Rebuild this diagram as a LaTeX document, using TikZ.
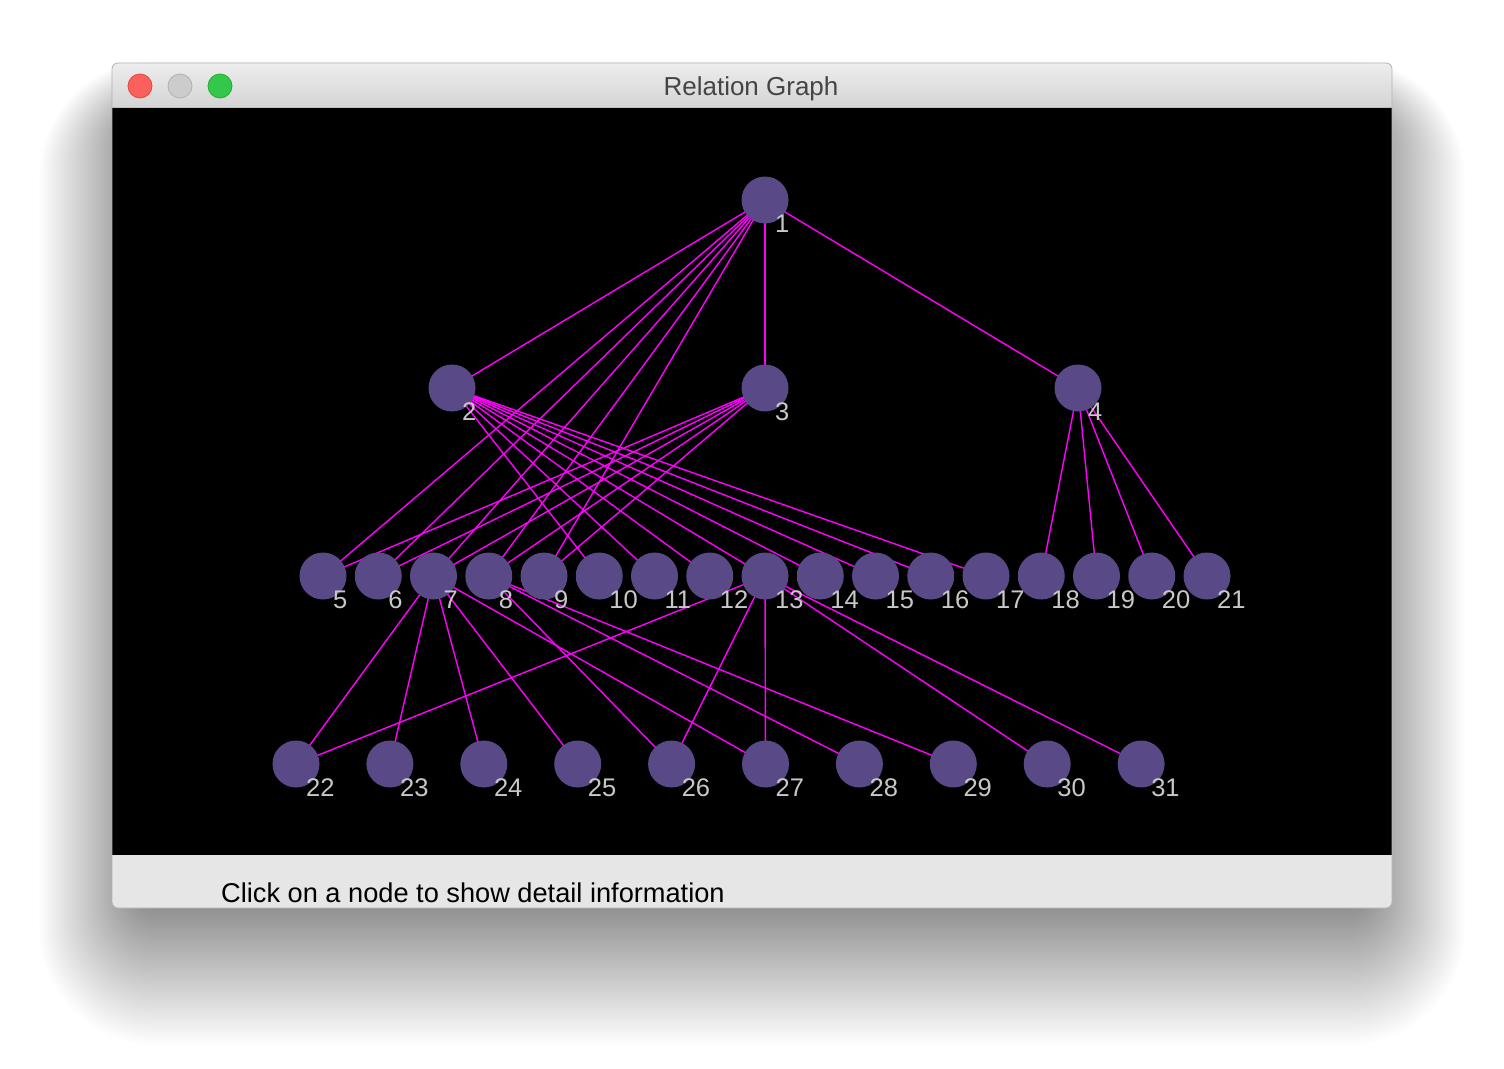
\documentclass[tikz,border=0pt]{standalone}
\usepackage{fontspec}
\setmainfont{Liberation Sans}
\pgfdeclarelayer{win}
\pgfdeclarelayer{edges}
\pgfsetlayers{win,edges,main}
\definecolor{nodecol}{HTML}{594A87}
\definecolor{labelcol}{HTML}{C8C8C8}
\definecolor{edgecol}{HTML}{FF00FF}
\definecolor{barcol}{HTML}{E6E6E6}
\definecolor{titlecol}{HTML}{454545}
\begin{document}
\begin{tikzpicture}[x=1pt,y=-1pt,
        vtx/.style={circle,fill=nodecol,inner sep=0pt,minimum size=47pt},
        lbl/.style={text=labelcol,font=\fontsize{25.5}{25.5}\selectfont,inner sep=0pt,anchor=west},
        edge/.style={draw=edgecol,line width=1.4pt},
        light/.style={circle,inner sep=0pt,minimum size=24pt,line width=0.8pt}]
    \useasboundingbox (0,0) rectangle (1504,1068);
    \begin{pgfonlayer}{win}
        \fill[white] (0,0) rectangle (1504,1068);
        \foreach \k [evaluate=\k as \r using 10+1.8*\k] in {1,...,60}{
            \fill[black,opacity=0.0085,rounded corners=\r pt] (147-1.8*\k,120-\k) rectangle (1357+1.8*\k,895+2.5*\k);
        }
        \fill[barcol,rounded corners=6pt] (112,63) rectangle (1392,908);
        \begin{scope}
            \clip[rounded corners=6pt] (112,63) rectangle (1392,908);
            \shade[top color=black!7,bottom color=black!17] (112,63) rectangle (1392,108);
            \fill[black] (112,108) rectangle (1392,855);
        \end{scope}
        \draw[black!25,line width=0.8pt] (112,107.5) -- (1392,107.5);
        \draw[black!30,line width=0.8pt,rounded corners=6pt] (112,63) rectangle (1392,908);
    \end{pgfonlayer}
    \node[light,fill={rgb,255:red,252;green,96;blue,92},draw={rgb,255:red,222;green,74;blue,68}] (close) at (140,86) {};
    \node[light,fill=black!20,draw=black!30] (mini) at (180,86) {};
    \node[light,fill={rgb,255:red,52;green,200;blue,74},draw={rgb,255:red,39;green,170;blue,53}] (zoom) at (220,86) {};
    \node[anchor=base,inner sep=0pt,text=titlecol,font=\fontsize{26}{26}\selectfont] (title) at (751,95) {Relation Graph};
    \node[anchor=base west,inner sep=0pt,font=\fontsize{27.2}{27.2}\selectfont] (status) at (221,902) {Click on a node to show detail information};
    \node[vtx] (n1) at (765,200) {};
    \foreach \i/\x in {2/452,3/765,4/1078}
        \node[vtx] (n\i) at (\x,388) {};
    \foreach \i in {5,...,21}
        \node[vtx] (n\i) at ({323+55.25*(\i-5)},576) {};
    \foreach \i in {22,...,31}
        \node[vtx] (n\i) at ({296+93.9*(\i-22)},764) {};
    \foreach \i in {1,...,31}
        \node[lbl] (l\i) at ([xshift=10pt,yshift=-24pt]n\i.center) {\i};
    \begin{pgfonlayer}{edges}
        \foreach \a/\b in {1/2,1/3,1/4,1/5,1/6,1/7,1/8,1/9,2/10,2/11,2/12,2/13,2/14,2/15,2/16,2/17,
                3/5,3/6,3/7,3/8,3/9,4/18,4/19,4/20,4/21,7/22,7/23,7/24,7/25,7/27,
                8/26,8/28,8/29,13/22,13/26,13/27,13/30,13/31}
            \draw[edge] (n\a.center) -- (n\b.center);
    \end{pgfonlayer}
\end{tikzpicture}
\end{document}
